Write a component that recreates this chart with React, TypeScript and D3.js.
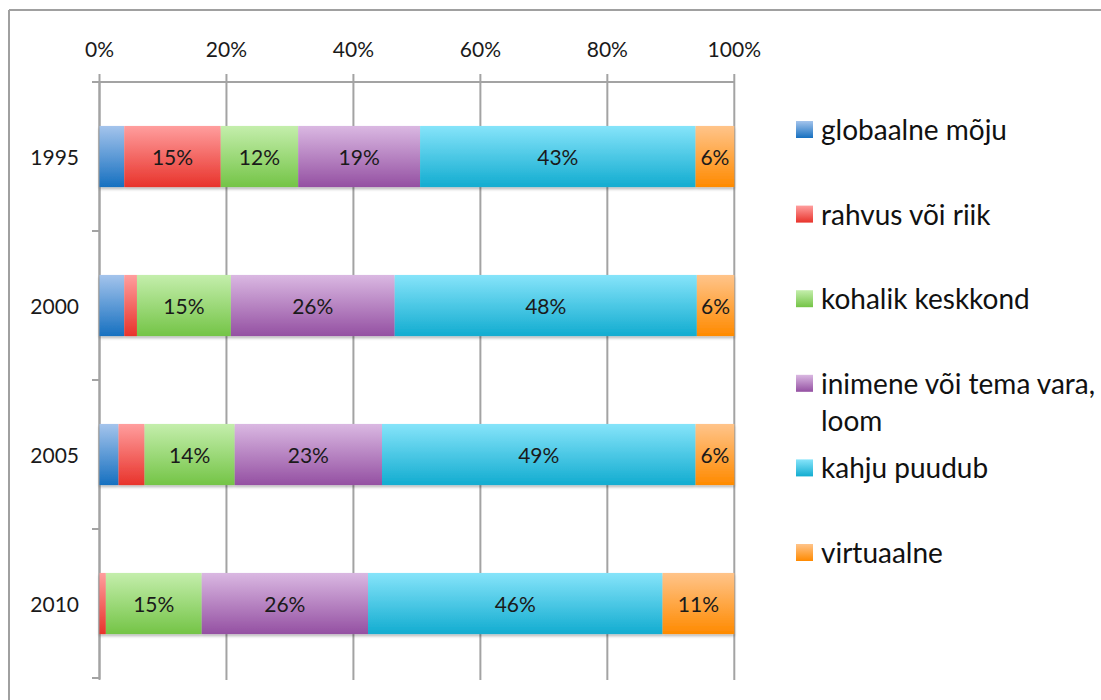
import React from "react";
import * as d3 from "d3";

const years = ["1995", "2000", "2005", "2010"];
const seriesNames = [
  "globaalne mõju",
  "rahvus või riik",
  "kohalik keskkond",
  "inimene või tema vara, loom",
  "kahju puudub",
  "virtuaalne",
];
const globaalne = [3.9, 3.9, 3.0, 0];
const rahvus = [15.2, 2.0, 4.1, 1.0];
const kohalik = [12.2, 14.8, 14.2, 15.1];
const inimene = [19.2, 25.8, 23.2, 26.2];
const kahju = [43.4, 47.6, 49.4, 46.4];
const virtuaalne = [6.1, 5.9, 6.1, 11.3];
const xTicks = [0, 0.2, 0.4, 0.6, 0.8, 1];

const gradTop = ["#a4c4ec", "#ff9e9e", "#c4eeac", "#dab8e2", "#86e4fa", "#ffc48a"];
const gradBottom = ["#1670c0", "#e8332b", "#74c446", "#9450a2", "#12acd0", "#ff8a00"];

export default function App() {
  const W = 1101, H = 700;
  const seriesValues = [globaalne, rahvus, kohalik, inimene, kahju, virtuaalne];
  const rows = years.map((y, i) => {
    const r: any = { year: y };
    seriesNames.forEach((s, j) => (r[s] = seriesValues[j][i]));
    return r;
  });
  const stacked = d3.stack<any>().keys(seriesNames).offset(d3.stackOffsetExpand)(rows);

  const x = d3.scaleLinear().domain([0, 1]).range([99.5, 734.3]);
  const y = d3.scaleBand().domain(years).range([82, 678]).paddingInner(0.59).paddingOuter(0.295);
  const step = y.step();
  const gridColor = "#a3a3a3";
  const font = "Lato, 'Open Sans', sans-serif";

  return (
    <svg width={W} height={H} style={{ display: "block", position: "absolute", left: 0, top: 0 }}>
      <defs>
        {seriesNames.map((s, i) => (
          <linearGradient key={i} id={`g${i}`} x1="0" y1="0" x2="0" y2="1">
            <stop offset="0%" stopColor={gradTop[i]} />
            <stop offset="100%" stopColor={gradBottom[i]} />
          </linearGradient>
        ))}
        <filter id="sh" x="-5%" y="-20%" width="110%" height="150%">
          <feGaussianBlur in="SourceAlpha" stdDeviation="1.5" />
          <feOffset dx="0" dy="2" result="b" />
          <feComponentTransfer><feFuncA type="linear" slope="0.3" /></feComponentTransfer>
          <feMerge><feMergeNode /><feMergeNode in="SourceGraphic" /></feMerge>
        </filter>
      </defs>
      <rect x={0} y={0} width={W} height={H} fill="#fff" />
      {/* outer frame */}
      <line x1={9} x2={W} y1={10} y2={10} stroke="#a0a0a0" strokeWidth={2} />
      <line x1={9} x2={9} y1={10} y2={H} stroke="#a0a0a0" strokeWidth={2} />

      {/* gridlines and ticks */}
      {xTicks.map((t) => (
        <line key={t} x1={x(t)} x2={x(t)} y1={74} y2={680} stroke={gridColor} strokeWidth={2} />
      ))}
      <line x1={92} x2={x(1)} y1={82} y2={82} stroke={gridColor} strokeWidth={2} />
      <line x1={x(0)} x2={x(0)} y1={82} y2={679} stroke={gridColor} strokeWidth={2} />
      {d3.range(years.length + 1).map((i) => (
        <line key={i} x1={92} x2={x(0)} y1={82 + i * step} y2={82 + i * step} stroke={gridColor} strokeWidth={2} />
      ))}
      {xTicks.map((t) => (
        <text key={t} x={x(t)} y={57} textAnchor="middle" fontFamily={font} fontSize={21} fill="#1a1a1a">
          {d3.format(".0%")(t)}
        </text>
      ))}
      {years.map((yr) => (
        <text key={yr} x={79} y={(y(yr) as number) + y.bandwidth() / 2 + 8} textAnchor="end" fontFamily={font} fontSize={21} fill="#1a1a1a">
          {yr}
        </text>
      ))}

      {/* bars */}
      {years.map((yr, i) => (
        <g key={yr} filter="url(#sh)">
          {stacked.map((s, j) => {
            const d = s[i];
            const w = x(d[1]) - x(d[0]);
            if (w <= 0) return null;
            return <rect key={j} x={x(d[0])} y={y(yr)} width={w} height={y.bandwidth()} fill={`url(#g${j})`} />;
          })}
        </g>
      ))}
      {years.map((yr, i) =>
        stacked.map((s, j) => {
          const d = s[i];
          const v = seriesValues[j][i];
          if (v < 5) return null;
          return (
            <text key={yr + j} x={(x(d[0]) + x(d[1])) / 2} y={(y(yr) as number) + y.bandwidth() / 2 + 8}
              textAnchor="middle" fontFamily={font} fontSize={21} fill="#1a1a1a">
              {Math.round(v) + "%"}
            </text>
          );
        })
      )}

      {/* legend */}
      {seriesNames.map((s, i) => {
        const cy = 130 + i * 84.6;
        const lines = i === 3 ? ["inimene või tema vara,", "loom"] : [s];
        return (
          <g key={s}>
            <rect x={796} y={cy - 9} width={17} height={17} fill={`url(#g${i})`} />
            {lines.map((ln, k) => (
              <text key={k} x={821} y={cy + 10 + k * 37} fontFamily={font} fontSize={28} fill="#111">
                {ln}
              </text>
            ))}
          </g>
        );
      })}
    </svg>
  );
}
